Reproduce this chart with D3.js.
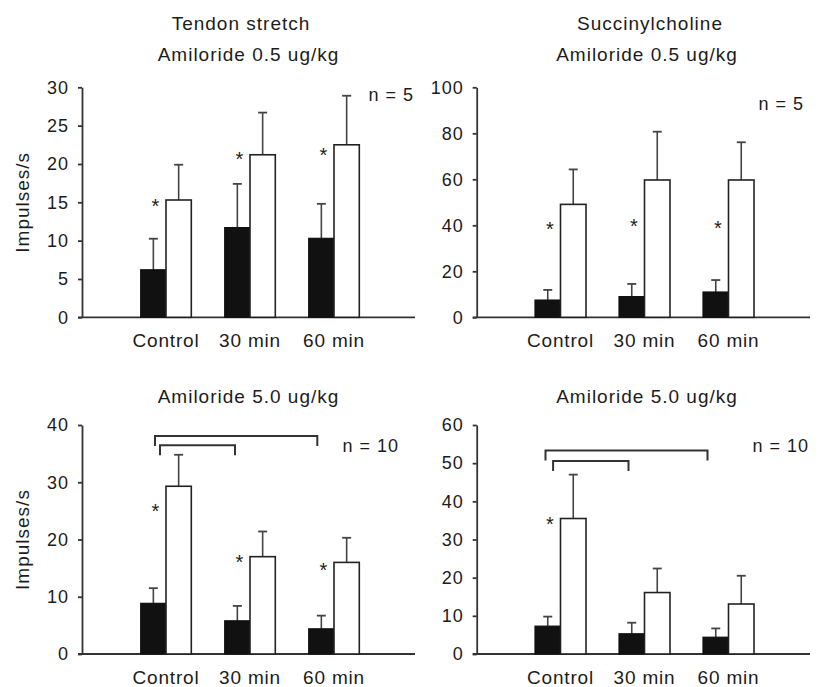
<!DOCTYPE html>
<html>
<head>
<meta charset="utf-8">
<script src="https://cdn.jsdelivr.net/npm/d3@7"></script>
<style>
  body { margin: 0; background: #fff; }
  svg text { font-family: "Liberation Sans", Arial, sans-serif; fill: #1c1c1c; }
</style>
</head>
<body>
<svg id="figure" width="821" height="687"></svg>
<script>

// categories shared by all four panels
const categories = ["Control", "30 min", "60 min"];

// Tendon stretch, amiloride 0.5 ug/kg
const tsLowBlack = [6.2, 11.7, 10.3];
const tsLowBlackErr = [10.25, 17.4, 14.8];
const tsLowWhite = [15.3, 21.2, 22.5];
const tsLowWhiteErr = [19.9, 26.7, 28.9];
const tsLowStars = [15.1, 21.2, 21.8];
const tsLowTicks = [0, 5, 10, 15, 20, 25, 30];

// Succinylcholine, amiloride 0.5 ug/kg
const scLowBlack = [7.5, 9.0, 11.0];
const scLowBlackErr = [11.9, 14.5, 16.2];
const scLowWhite = [49.1, 59.7, 59.7];
const scLowWhiteErr = [64.3, 80.7, 76.1];
const scLowStars = [40.5, 41.5, 41.0];
const scLowTicks = [0, 20, 40, 60, 80, 100];

// Tendon stretch, amiloride 5.0 ug/kg
const tsHighBlack = [8.85, 5.8, 4.4];
const tsHighBlackErr = [11.5, 8.4, 6.7];
const tsHighWhite = [29.3, 17.0, 16.0];
const tsHighWhiteErr = [34.8, 21.4, 20.3];
const tsHighStars = [25.7, 16.9, 15.5];
const tsHighTicks = [0, 10, 20, 30, 40];
const tsHighBrackets = [
    { from: "Control", to: "60 min", level: 38.1 },
    { from: "Control", to: "30 min", level: 36.45 },
];

// Succinylcholine, amiloride 5.0 ug/kg
const scHighBlack = [7.3, 5.3, 4.4];
const scHighBlackErr = [9.8, 8.2, 6.7];
const scHighWhite = [35.5, 16.1, 13.1];
const scHighWhiteErr = [47.0, 22.4, 20.5];
const scHighStars = [35.3, null, null];
const scHighTicks = [0, 10, 20, 30, 40, 50, 60];
const scHighBrackets = [
    { from: "Control", to: "60 min", level: 53.3 },
    { from: "Control", to: "30 min", level: 50.6 },
];


class BarPanel {

    constructor( config, data ) {
        this.config = config;
        this.data = data;
        this.init();
        this.render();
    }

    init() {
        let self = this;
        const c = self.config;

        self.chart = d3.select( c.parent ).append('g');

        self.xscale = d3.scaleBand()
            .domain( categories )
            .range( c.xrange );

        self.yscale = d3.scaleLinear()
            .domain( [0, d3.max(self.data.ticks)] )
            .range( [c.bottom, c.top] );

        self.yaxis = d3.axisLeft( self.yscale )
            .tickValues( self.data.ticks )
            .tickSize(4)
            .tickSizeOuter(0)
            .tickPadding(9);
    }

    center( cat ) {
        return this.xscale(cat) + this.xscale.bandwidth() / 2;
    }

    render() {
        let self = this;
        const c = self.config;
        const d = self.data;
        const y0 = self.yscale(0);
        const bw = c.barWidth;

        // axes
        const yg = self.chart.append('g')
            .attr('transform', `translate(${c.axisX}, 0)`)
            .style('color', '#333')
            .call( self.yaxis );
        yg.attr('font-size', null).attr('font-family', null);
        yg.selectAll('path, line').attr('stroke-width', 1.8);
        yg.selectAll('text')
            .attr('font-size', 18)
            .style('letter-spacing', '1px');

        self.chart.append('line')
            .attr('x1', c.axisX - 4).attr('x2', c.xEnd)
            .attr('y1', y0).attr('y2', y0)
            .attr('stroke', '#333').attr('stroke-width', 1.8);

        // bars: black (before) left, white (after) right
        const rows = categories.map((cat, i) => ({
            cat: cat,
            black: d.black[i], blackErr: d.blackErr[i],
            white: d.white[i], whiteErr: d.whiteErr[i],
            star: d.stars[i]
        }));

        // error bars first so the bars sit on top of them
        const err = [];
        rows.forEach(r => {
            err.push({ x: self.center(r.cat) - bw / 2, v: r.black, e: r.blackErr });
            err.push({ x: self.center(r.cat) + bw / 2, v: r.white, e: r.whiteErr });
        });
        self.chart.selectAll('.errline')
            .data(err).enter().append('line')
            .attr('x1', e => e.x).attr('x2', e => e.x)
            .attr('y1', e => self.yscale(e.v)).attr('y2', e => self.yscale(e.e))
            .attr('stroke', '#444').attr('stroke-width', 1.6);
        self.chart.selectAll('.errcap')
            .data(err).enter().append('line')
            .attr('x1', e => e.x - 4.5).attr('x2', e => e.x + 4.5)
            .attr('y1', e => self.yscale(e.e)).attr('y2', e => self.yscale(e.e))
            .attr('stroke', '#444').attr('stroke-width', 1.8);

        self.chart.selectAll('.black')
            .data(rows).enter().append('rect')
            .attr('x', r => self.center(r.cat) - bw)
            .attr('y', r => self.yscale(r.black))
            .attr('width', bw)
            .attr('height', r => y0 - self.yscale(r.black))
            .attr('fill', '#111')
            .attr('stroke', '#111').attr('stroke-width', 1.2);

        self.chart.selectAll('.white')
            .data(rows).enter().append('rect')
            .attr('x', r => self.center(r.cat))
            .attr('y', r => self.yscale(r.white))
            .attr('width', bw)
            .attr('height', r => y0 - self.yscale(r.white))
            .attr('fill', '#fff')
            .attr('stroke', '#222').attr('stroke-width', 1.6);

        // significance stars
        self.chart.selectAll('.star')
            .data(rows.filter(r => r.star != null)).enter().append('text')
            .attr('x', r => self.center(r.cat) - 10.5)
            .attr('y', r => self.yscale(r.star) + 11.5)
            .attr('text-anchor', 'middle')
            .attr('font-size', 20)
            .text('*');

        // brackets
        (d.brackets || []).forEach((b, i) => {
            const off = c.bracketOffsets[i];
            const x1 = self.center(b.from) + off[0];
            const x2 = self.center(b.to) + off[1];
            const yy = self.yscale(b.level);
            self.chart.append('path')
                .attr('d', `M${x1},${yy + 10}V${yy}H${x2}V${yy + 10}`)
                .attr('fill', 'none')
                .attr('stroke', '#333').attr('stroke-width', 2);
        });

        // category labels
        self.chart.selectAll('.cat')
            .data(categories).enter().append('text')
            .attr('x', cat => self.center(cat))
            .attr('y', y0 + 29.5)
            .attr('text-anchor', 'middle')
            .attr('font-size', 19)
            .style('letter-spacing', '0.8px')
            .text(cat => cat);

        // titles
        c.titles.forEach(t => {
            self.chart.append('text')
                .attr('x', t.x).attr('y', t.y)
                .attr('text-anchor', 'middle')
                .attr('font-size', 19)
                .style('letter-spacing', '1px')
                .text(t.text);
        });

        // n label
        self.chart.append('text')
            .attr('x', c.nlabel.x).attr('y', c.nlabel.y)
            .attr('text-anchor', 'end')
            .attr('font-size', 18)
            .style('letter-spacing', '1px')
            .text(c.nlabel.text);

        // y label
        if (c.ylabel) {
            self.chart.append('text')
                .attr('transform', `translate(29.3, ${(c.top + c.bottom) / 2}) rotate(-90)`)
                .attr('text-anchor', 'middle')
                .attr('font-size', 19)
                .style('letter-spacing', '1px')
                .text(c.ylabel);
        }
    }
}

const svg = '#figure';

new BarPanel({
    parent: svg, xrange: [124, 376], barWidth: 25.3, axisX: 82, xEnd: 415,
    top: 87.3, bottom: 317.3, ylabel: 'Impulses/s',
    titles: [ { text: 'Tendon stretch', x: 241, y: 29.5 },
              { text: 'Amiloride 0.5 ug/kg', x: 248.5, y: 60.5 } ],
    nlabel: { text: 'n = 5', x: 414, y: 100.5 }
}, { black: tsLowBlack, blackErr: tsLowBlackErr, white: tsLowWhite,
     whiteErr: tsLowWhiteErr, stars: tsLowStars, ticks: tsLowTicks });

new BarPanel({
    parent: svg, xrange: [518.5, 770.5], barWidth: 25.5, axisX: 476.7, xEnd: 810,
    top: 87.3, bottom: 317.3,
    titles: [ { text: 'Succinylcholine', x: 650, y: 29.5 },
              { text: 'Amiloride 0.5 ug/kg', x: 647, y: 60.5 } ],
    nlabel: { text: 'n = 5', x: 804, y: 109.5 }
}, { black: scLowBlack, blackErr: scLowBlackErr, white: scLowWhite,
     whiteErr: scLowWhiteErr, stars: scLowStars, ticks: scLowTicks });

new BarPanel({
    parent: svg, xrange: [124, 376], barWidth: 25.3, axisX: 82, xEnd: 415,
    top: 425, bottom: 654, ylabel: 'Impulses/s',
    titles: [ { text: 'Amiloride 5.0 ug/kg', x: 248.5, y: 402.5 } ],
    nlabel: { text: 'n = 10', x: 399, y: 451.5 },
    bracketOffsets: [ [-11, -16.7], [-6, -15] ]
}, { black: tsHighBlack, blackErr: tsHighBlackErr, white: tsHighWhite,
     whiteErr: tsHighWhiteErr, stars: tsHighStars, ticks: tsHighTicks,
     brackets: tsHighBrackets });

new BarPanel({
    parent: svg, xrange: [518.5, 770.5], barWidth: 25.5, axisX: 476.7, xEnd: 810,
    top: 425, bottom: 654,
    titles: [ { text: 'Amiloride 5.0 ug/kg', x: 647, y: 402.5 } ],
    nlabel: { text: 'n = 10', x: 809, y: 451.5 },
    bracketOffsets: [ [-15, -21], [-7.4, -16] ]
}, { black: scHighBlack, blackErr: scHighBlackErr, white: scHighWhite,
     whiteErr: scHighWhiteErr, stars: scHighStars, ticks: scHighTicks,
     brackets: scHighBrackets });

</script>
</body>
</html>
